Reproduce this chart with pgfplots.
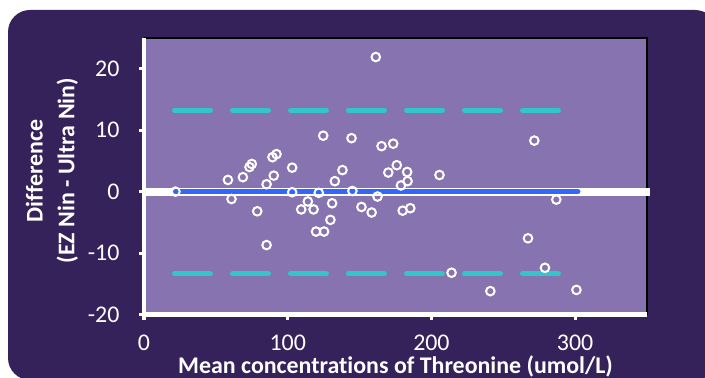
\documentclass[border=0pt]{standalone}
\usepackage{pgfplots}
\pgfplotsset{compat=1.18}
\usepackage{fontspec}
\setmainfont{Carlito}[Ligatures=NoCommon]
\definecolor{bgcol}{HTML}{36225A}
\definecolor{plotcol}{HTML}{8673B0}
\definecolor{limcol}{HTML}{33C5C9}
\definecolor{meancol}{HTML}{3366FF}
\begin{document}
\begin{tikzpicture}
\useasboundingbox (0bp,0bp) rectangle (705bp,378bp);
\fill[white] (0bp,0bp) rectangle (705bp,378bp);
\fill[bgcol, rounded corners=22bp] (8bp,-2bp) rectangle (717bp,368bp);
\begin{axis}[
  at={(144bp,63.5bp)}, anchor=south west,
  scale only axis, width=503bp, height=276.5bp,
  xmin=0, xmax=350, ymin=-20, ymax=25,
  xtick={0,100,200,300}, xticklabels={0,100,200,300},
  ytick={-20,-10,0,10,20}, yticklabels={-20,-10,0,10,20},
  xtick pos=left, ytick pos=left, tick align=outside,
  major tick length=5bp,
  tick style={white, line width=3bp},
  axis line style={draw=none},
  axis background/.style={fill=plotcol},
  tick label style={font=\fontsize{24}{28}\selectfont, text=white},
  xticklabel style={yshift=-15.5bp, inner sep=0pt},
  yticklabel style={xshift=-16bp},
  clip=false,
  xlabel={\bfseries Mean concentrations of Threonine (umol/L)},
  xlabel style={font=\fontsize{24}{28}\selectfont, text=white, inner sep=0pt, at={(axis description cs:0.5,0)}, anchor=base, yshift=-59bp},
  ylabel={\bfseries Difference\\\bfseries (EZ Nin - Ultra Nin)},
  ylabel style={font=\fontsize{24}{32}\selectfont, text=white, align=center, at={(axis description cs:-0.183,0.52)}, anchor=center},
]
\draw[black, line width=2bp] (rel axis cs:0,1) -- (rel axis cs:1,1) -- (rel axis cs:1,0);
\draw[white, line width=4bp] (rel axis cs:0,1) -- (rel axis cs:0,0) -- (rel axis cs:1,0);
\addplot[white, line width=8bp, forget plot] coordinates {(0,0) (352,0)};
\addplot[meancol, line width=5bp, line cap=round] coordinates {(21.9,0) (301.9,0)};
\addplot[limcol, line width=5bp, line cap=round, dash pattern=on 36bp off 22bp] coordinates {(21.2,13.25) (288.5,13.25)};
\addplot[limcol, line width=5bp, line cap=round, dash pattern=on 36bp off 22bp] coordinates {(21.2,-13.4) (288.5,-13.4)};
\addplot[only marks, mark=o, mark size=4.3bp, white, line width=2bp] table {
x y
21.9 0.0
58.4 1.9
60.9 -1.2
68.8 2.35
73.4 4.0
75.0 4.5
78.8 -3.2
85.3 1.2
85.3 -8.7
89.4 5.6
92.2 6.1
90.3 2.6
103.1 3.9
103.1 -0.1
109.4 -2.9
114.0 -1.6
118.0 -2.9
119.7 -6.5
121.6 -0.2
124.7 9.1
125.3 -6.5
129.7 -4.6
130.9 -1.9
132.8 1.7
138.1 3.5
144.4 8.7
145.0 0.1
151.3 -2.5
158.4 -3.4
161.3 21.9
162.5 -0.8
165.3 7.4
170.0 3.1
173.4 7.8
175.9 4.3
178.8 1.0
180.0 -3.1
183.1 3.2
183.4 1.7
185.3 -2.7
205.6 2.7
214.0 -13.2
241.0 -16.2
267.2 -7.6
271.6 8.3
279.0 -12.4
286.9 -1.3
300.9 -16.0
};
\end{axis}
\end{tikzpicture}
\end{document}
